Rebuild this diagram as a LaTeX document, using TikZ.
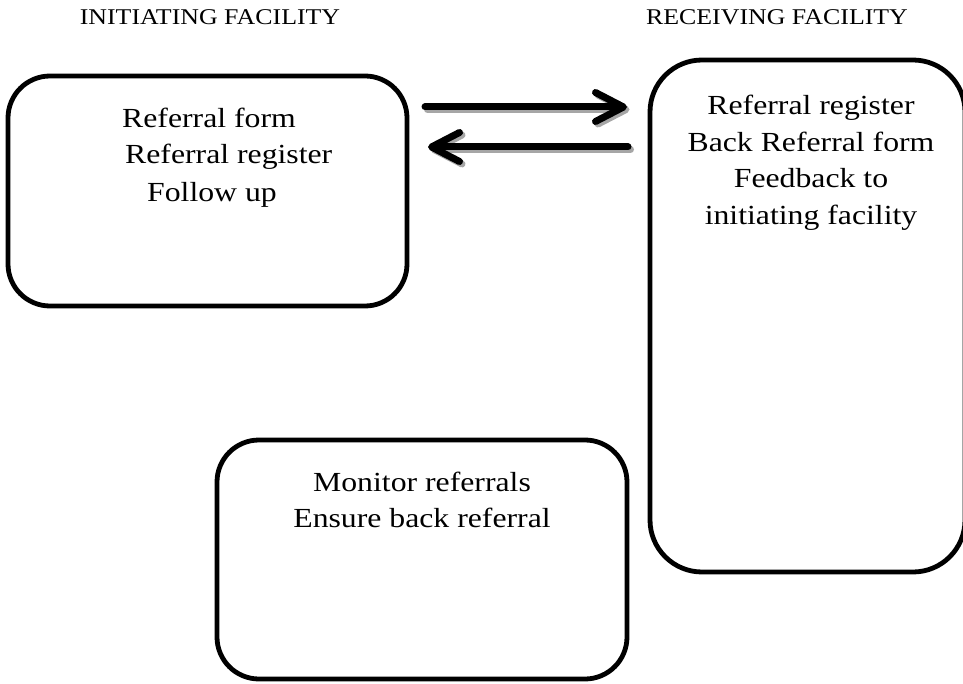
\documentclass[tikz,border=0pt]{standalone}
\usepackage{fontspec}
\setmainfont[FakeStretch=1.15]{Liberation Serif}
\usetikzlibrary{arrows.meta}
\begin{document}
\begin{tikzpicture}[x=1pt,y=-1pt,
  box/.style={draw, line width=4.8pt, inner sep=0pt, outer sep=0pt},
  body/.style={font=\fontsize{27.6}{37}\selectfont, inner sep=0pt},
  head/.style={font=\fontsize{22.5}{27}\selectfont, inner sep=0pt, anchor=base},
  arr/.style={line width=7pt, line cap=round, -{Straight Barb[length=28pt,width=29pt,round]}},
  arrshadow/.style={arr, draw=gray!70, transform canvas={shift={(2.5pt,-2.5pt)}}}
]
\useasboundingbox (0,0) rectangle (963,684);
% headers
\node[head] (h1) at (210,25) {INITIATING FACILITY};
\node[head] (h2) at (777,25) {RECEIVING FACILITY};
% boxes
\node[box, rounded corners=42pt, minimum width=399pt, minimum height=230pt] (L) at (207.5,191) {};
\node[box, rounded corners=52pt, minimum width=315pt, minimum height=512pt] (R) at (807.5,316) {};
\node[box, rounded corners=42pt, minimum width=410pt, minimum height=239pt] (B) at (422,559.5) {};
% left box text
\node[body, anchor=base west] (l1) at (122,128) {Referral form};
\node[body, anchor=base west] (l2) at (125,164) {Referral register};
\node[body, anchor=base west] (l3) at (147,202) {Follow up};
% right box text
\node[body, anchor=base] (r1) at (811,115) {Referral register};
\node[body, anchor=base] (r2) at (811,152) {Back Referral form};
\node[body, anchor=base] (r3) at (811,188) {Feedback to};
\node[body, anchor=base] (r4) at (811,225) {initiating facility};
% bottom box text
\node[body, anchor=base] (b1) at (422,491) {Monitor referrals};
\node[body, anchor=base] (b2) at (422,527) {Ensure back referral};
% arrows
\coordinate (a1s) at (425,107);
\coordinate (a1e) at (627,107);
\coordinate (a2s) at (628,147);
\coordinate (a2e) at (428,147);
\draw[arrshadow] (a1s) -- (a1e);
\draw[arrshadow] (a2s) -- (a2e);
\draw[arr] (a1s) -- (a1e);
\draw[arr] (a2s) -- (a2e);
\end{tikzpicture}
\end{document}
